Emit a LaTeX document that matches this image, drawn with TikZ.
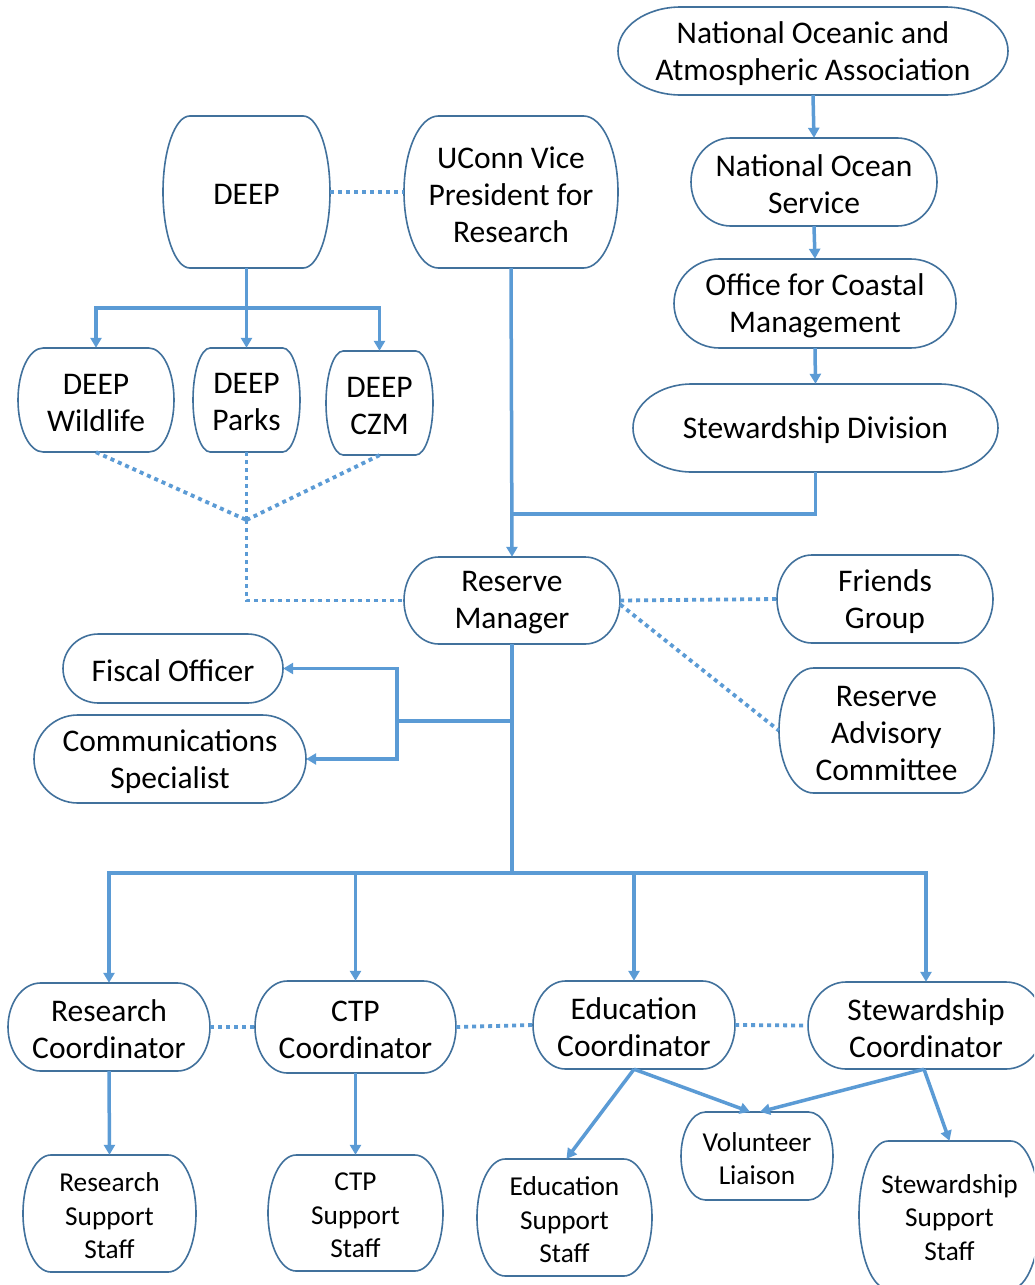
\documentclass[tikz,border=0pt]{standalone}
\usepackage{fontspec}
\setmainfont{Carlito}
\usetikzlibrary{arrows.meta}
\definecolor{conn}{HTML}{5B9BD5}
\definecolor{outl}{HTML}{41719C}
\newcommand\bigf{\fontsize{31.5}{37}\selectfont}
\newcommand\smallf{\fontsize{27.3}{33.5}\selectfont}
\tikzset{
  boxline/.style={draw=outl, line width=1.6pt, fill=white},
  anchorbox/.style={inner sep=0pt},
  txt/.style={inner sep=0pt, align=center, font=\bigf, text=black},
  smalltxt/.style={font=\smallf},
  link/.style={draw=conn, line width=3.5pt},
  arr/.style={link, -{Triangle[width=11pt,length=10pt]}},
  dots/.style={draw=conn, line width=3.8pt, dash pattern=on 4pt off 4pt},
}
% #1 opt, #2 name, #3 cx, #4 cy, #5 w, #6 h, #7 text
\newcommand\tbox[7][]{%
  \pgfmathsetmacro\tbL{#3-#5/2}%
  \pgfmathsetmacro\tbR{#3+#5/2}%
  \pgfmathsetmacro\tbT{#4-#6/2}%
  \pgfmathsetmacro\tbB{#4+#6/2}%
  \pgfmathsetmacro\tbrx{0.161*#5}%
  \pgfmathsetmacro\tbkx{0.5523*\tbrx}%
  \pgfmathsetmacro\tbky{0.5523*#6/2}%
  \draw[boxline] (\tbL+\tbrx,\tbT) -- (\tbR-\tbrx,\tbT)
    .. controls (\tbR-\tbrx+\tbkx,\tbT) and (\tbR,#4-\tbky) .. (\tbR,#4)
    .. controls (\tbR,#4+\tbky) and (\tbR-\tbrx+\tbkx,\tbB) .. (\tbR-\tbrx,\tbB)
    -- (\tbL+\tbrx,\tbB)
    .. controls (\tbL+\tbrx-\tbkx,\tbB) and (\tbL,#4+\tbky) .. (\tbL,#4)
    .. controls (\tbL,#4-\tbky) and (\tbL+\tbrx-\tbkx,\tbT) .. (\tbL+\tbrx,\tbT) -- cycle;
  \node[anchorbox, minimum width=#5pt, minimum height=#6pt] (#2) at (#3,#4) {};
  \node[txt, #1] (#2-t) at (#3,#4+2.5) {#7};
}
\begin{document}
\begin{tikzpicture}[x=1pt, y=-1pt]
\useasboundingbox (0,0) rectangle (1034,1285);
\fill[white] (0,0) rectangle (1034,1285);
\clip (0,0) rectangle (1034,1285);

\tbox{noaa}{813}{51}{390}{88}{National Oceanic and\\Atmospheric Association}
\tbox{nos}{814}{182}{246}{88}{National Ocean\\Service}
\tbox{ocm}{815}{303.5}{282}{89}{Office for Coastal\\Management}
\tbox{sd}{815.5}{428}{365}{88}{Stewardship Division}
\tbox{deep}{246.5}{192}{167}{152}{DEEP}
\tbox{vp}{511}{192}{214}{152}{UConn Vice\\President for\\Research}
\tbox{wild}{96}{400}{156}{104}{DEEP\\Wildlife}
\tbox{parks}{246.5}{400}{107}{104}{DEEP\\Parks}
\tbox{czm}{379.5}{403}{107}{104}{DEEP\\CZM}
\tbox{rm}{512}{600.5}{216}{87}{Reserve\\Manager}
\tbox{fg}{885}{599}{216}{88}{Friends\\Group}
\tbox{rac}{886.5}{730.5}{215}{125}{Reserve\\Advisory\\Committee}
\tbox{fo}{173}{668.5}{220}{69}{Fiscal Officer}
\tbox{cs}{170}{759}{272}{88}{Communications\\Specialist}
\tbox{rc}{109}{1027}{202}{88}{Research\\Coordinator}
\tbox{cc}{355.5}{1027}{201}{92}{CTP\\Coordinator}
\tbox{ec}{634}{1025}{202}{88}{Education\\Coordinator}
\tbox{sc}{926}{1025.5}{236}{87}{Stewardship\\Coordinator}
\tbox[smalltxt]{rs}{109.5}{1213.5}{173}{117}{Research\\Support\\Staff}
\tbox[smalltxt]{ctps}{355.5}{1213}{175}{116}{CTP\\Support\\Staff}
\tbox[smalltxt]{es}{564.5}{1217.5}{175}{117}{Education\\Support\\Staff}
\tbox[smalltxt]{vl}{757}{1156}{152}{88}{Volunteer\\Liaison}
\tbox[smalltxt]{ss}{949.5}{1215}{181}{148}{Stewardship\\Support\\Staff}

% NOAA chain
\draw[arr] (noaa.south) -- (nos.north);
\draw[arr] (nos.south) -- (ocm.north);
\draw[arr] (ocm.south) -- (sd.north);
\coordinate (j1) at (512,514);
\draw[link] (sd.south) |- (j1);
\draw[arr] (vp.south) -- (rm.north);

% DEEP tree
\coordinate (dj) at (246.5,308);
\draw[link] (deep.south) -- (dj);
\draw[arr] (dj) -| (wild.north);
\draw[arr] (dj) -| (czm.north);
\draw[arr] (dj) -- (parks.north);
\draw[dots] (deep.east) -- (vp.west);
\coordinate (dd) at (246.5,520);
\draw[dots] (wild.south) -- (dd);
\draw[dots] (parks.south) -- (dd);
\draw[dots] (czm.south) -- (dd);
\draw[dots] (dd) |- (rm.west);
\draw[dots] (rm.east) -- (fg.west);
\draw[dots] ([yshift=-4pt]rm.east) -- (rac.west);

% Manager to staff
\coordinate (bj) at (512,873);
\coordinate (fj) at (512,721);
\coordinate (fk) at (397,721);
\draw[link] (rm.south) -- (bj);
\draw[link] (fj) -- (fk);
\draw[arr] (fk) |- (fo.east);
\draw[arr] (fk) |- (cs.east);
\draw[arr] (bj) -| (rc.north);
\draw[arr] (bj) -| (cc.north);
\draw[arr] (bj) -| (ec.north);
\draw[arr] (bj) -| (sc.north);

% coordinators
\draw[dots] (rc.east) -- (cc.west);
\draw[dots] (cc.east) -- (ec.west);
\draw[dots] (ec.east) -- (sc.west);
\draw[arr] (rc.south) -- (rs.north);
\draw[arr] (cc.south) -- (ctps.north);
\draw[arr] (ec.south) -- ([xshift=2pt]es.north);
\draw[arr] (ec.south) -- ([xshift=-7pt]vl.north);
\draw[arr] ([xshift=-2pt]sc.south) -- ([xshift=3pt]vl.north);
\draw[arr] ([xshift=-2pt]sc.south) -- (ss.north);
\end{tikzpicture}
\end{document}
